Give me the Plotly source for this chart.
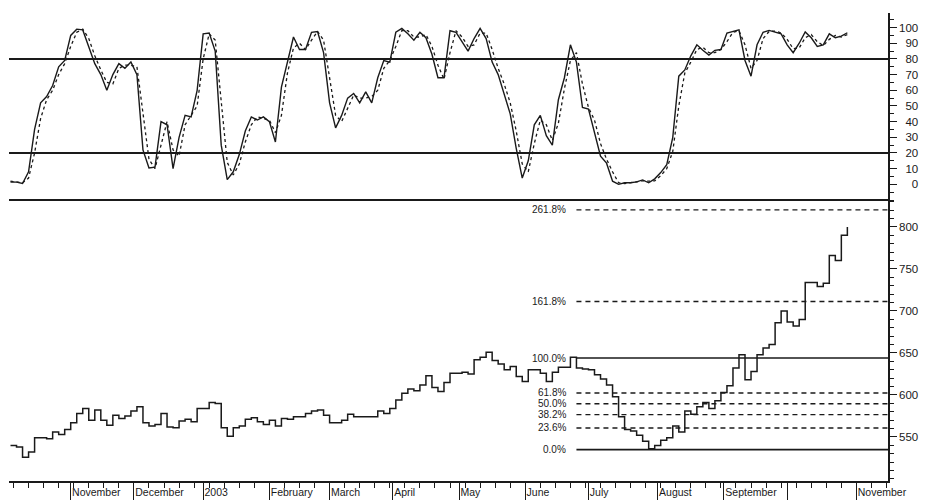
import pandas as pd
import plotly.graph_objects as go

# closing prices, every second trading day from 4 Oct 2002
CLOSE = [
    540, 538, 526, 532, 549, 549, 548, 556, 553, 559,
    567, 578, 584, 570, 582, 570, 564, 576, 572, 575,
    581, 586, 567, 563, 565, 578, 562, 561, 569, 571,
    568, 584, 584, 591, 590, 561, 551, 561, 563, 571,
    573, 568, 565, 570, 563, 572, 571, 574, 574, 578,
    581, 582, 576, 567, 567, 570, 577, 574, 574, 574,
    574, 581, 578, 584, 594, 602, 607, 605, 612, 623,
    609, 604, 615, 626, 626, 627, 625, 642, 645, 651,
    641, 637, 630, 634, 622, 616, 630, 630, 626, 616,
    627, 633, 633, 645, 632, 631, 630, 624, 619, 612,
    598, 574, 559, 557, 552, 545, 536, 540, 546, 549,
    563, 556, 581, 577, 586, 591, 584, 593, 603, 611,
    632, 648, 618, 628, 648, 656, 660, 686, 700, 687,
    682, 690, 734, 734, 729, 733, 766, 760, 790, 800,
]

# stochastic %K (solid) and %D (dashed)
STOCH_K = [
    1.5, 1.4, 0.5, 8, 35, 52, 56, 63, 75, 79,
    95, 99, 98.5, 87, 77, 70, 60, 70, 77, 74,
    78, 70, 22, 10.5, 11, 40, 38, 10, 30, 44,
    43, 60, 96, 96.5, 85, 25, 3, 8, 19, 34,
    43, 41, 43, 40, 27, 62, 79, 94, 86, 86,
    97, 97.5, 84, 52, 36, 44, 55, 58, 52, 59,
    52, 68, 79, 78, 97, 99.5, 96, 92, 97, 93.5,
    83, 68, 68, 98, 97, 91, 85, 93, 99.5, 93,
    78, 70, 58, 45, 23, 4, 15, 38, 44, 31,
    25, 54, 68, 89, 78, 49, 48, 33, 18, 13.5,
    2, 0, 1, 1, 1.6, 2.8, 1, 3.5, 7.5, 12.5,
    30, 69, 73, 82, 89, 85.5, 82.5, 85.5, 86, 96.5,
    97.3, 98.5, 79, 69, 89, 97, 98.2, 97.3, 96, 89,
    84, 90, 97.2, 93.5, 88, 89, 96, 93.5, 94.5, 96.7,
]
STOCH_D = [
    2, 1.6, 1, 4, 20, 42, 54, 60, 70, 77,
    88, 97, 99, 93, 82, 73, 65, 64, 74, 76,
    76, 75, 45, 16, 10, 25, 40, 22, 18, 38,
    44, 50, 80, 96, 92, 55, 14, 6, 13, 27,
    38, 43, 42, 41, 33, 44, 71, 87, 90, 86,
    92, 97.5, 92, 68, 44, 40, 49, 57, 55, 55,
    56, 60, 74, 79, 88, 98, 98, 94, 94, 95.5,
    88, 76, 67, 84, 98, 94, 88, 89, 96.5, 96.5,
    86, 74, 64, 52, 34, 13, 8, 26, 41, 38,
    28, 39, 61, 79, 84, 64, 49, 41, 26, 16,
    8, 1, 0.5, 1, 1.3, 2.2, 2, 2.2, 5.5, 10,
    21, 50, 71, 78, 86, 87.5, 84, 84, 86, 91,
    97, 98, 89, 74, 79, 93, 97.5, 97.8, 96.6, 92.5,
    86.5, 87, 93.5, 95.5, 91, 88.5, 92.5, 95, 94, 95.5,
]
STOCH_LEVELS = [20, 80]

# fibonacci levels from the August low to the late-June high
SWING_LOW = 535
SWING_HIGH = 644
SWING_HIGH_DATE = "2003-06-25"
FIB_RATIOS = [0.0, 23.6, 38.2, 50.0, 61.8, 100.0, 161.8, 261.8]

MONTH_TICKS = [
    "2002-11-01", "2002-12-02", "2003-01-02", "2003-02-03", "2003-03-03",
    "2003-04-01", "2003-05-01", "2003-06-02", "2003-07-01", "2003-08-01",
    "2003-09-02", "2003-10-01", "2003-11-03",
]
MONTH_LABELS = [
    "November", "December", "2003", "February", "March", "April", "May",
    "June", "July", "August", "September", "", "November",
]
PRICE_TICKS = [550, 600, 650, 700, 750, 800]
STOCH_TICKS = [0, 10, 20, 30, 40, 50, 60, 70, 80, 90, 100]

X_RANGE = ["2002-10-03 12:00", "2003-11-17 12:00"]
INK = "#1a1a1a"

dates = pd.bdate_range("2002-10-04", periods=len(CLOSE), freq="2B")

fig = go.Figure()
fig.add_trace(go.Scatter(x=dates, y=STOCH_K, yaxis="y2", mode="lines",
                         line=dict(color=INK, width=1.4)))
fig.add_trace(go.Scatter(x=dates, y=STOCH_D, yaxis="y2", mode="lines",
                         line=dict(color=INK, width=1.3, dash="3px,3px")))
fig.add_trace(go.Scatter(x=dates, y=CLOSE, yaxis="y", mode="lines",
                         line=dict(color=INK, width=1.5, shape="hv")))

shapes = []
for lvl in STOCH_LEVELS:
    shapes.append(dict(type="line", xref="x domain", x0=0, x1=1, yref="y2",
                       y0=lvl, y1=lvl, line=dict(color=INK, width=2)))
# panel divider
shapes.append(dict(type="line", xref="x domain", x0=0, x1=1, yref="y domain",
                   y0=1, y1=1, line=dict(color=INK, width=2)))

annotations = []
for r in FIB_RATIOS:
    level = SWING_LOW + (SWING_HIGH - SWING_LOW) * r / 100
    solid = r in (0.0, 100.0)
    shapes.append(dict(type="line", xref="x", x0=SWING_HIGH_DATE, x1=X_RANGE[1],
                       yref="y", y0=level, y1=level,
                       line=dict(color=INK, width=1.6 if solid else 1.4,
                                 dash="solid" if solid else "5px,4px")))
    annotations.append(dict(x=SWING_HIGH_DATE, y=level, xref="x", yref="y",
                            text=f"{r:.1f}%", showarrow=False, xanchor="right",
                            xshift=-8, font=dict(size=10, color=INK)))

stoch_text = [("\u2007" * (3 - len(str(v)))) + str(v) for v in STOCH_TICKS]

axis_common = dict(showgrid=False, zeroline=False, showline=True, linecolor=INK,
                   linewidth=1.5, ticks="outside", tickcolor=INK, tickwidth=1.2,
                   automargin=False)

fig.update_layout(
    width=936, height=500,
    margin=dict(l=9, r=48, t=13, b=19, autoexpand=False),
    paper_bgcolor="white", plot_bgcolor="white",
    showlegend=False,
    font=dict(family="Liberation Sans, Arial, sans-serif", size=11.5, color=INK),
    shapes=shapes,
    annotations=annotations,
    xaxis=dict(
        **axis_common,
        type="date", range=X_RANGE, anchor="y",
        rangebreaks=[dict(bounds=["sat", "mon"])],
        tickvals=MONTH_TICKS, ticktext=MONTH_LABELS,
        ticklen=18, tickangle=0,
        ticklabelposition="outside right", ticklabelstandoff=1,
        tickfont=dict(size=10.5),
        minor=dict(dtick=7 * 86400000, tick0="2002-10-07", ticks="outside",
                   ticklen=5, tickcolor=INK, showgrid=False),
    ),
    yaxis=dict(
        **axis_common,
        domain=[0, 0.6004], range=[497.6, 832.1], side="right", anchor="x",
        tickvals=PRICE_TICKS, ticklen=7,
        minor=dict(dtick=10, ticks="outside", ticklen=4, tickcolor=INK),
    ),
    yaxis2=dict(
        **axis_common,
        domain=[0.6004, 1], range=[-10, 109.3], side="right", anchor="x",
        tickvals=STOCH_TICKS, ticktext=stoch_text, ticklen=7,
        minor=dict(dtick=5, ticks="outside", ticklen=4, tickcolor=INK),
    ),
)

# the page's default body margin would push the figure 8px off the window
fig.write_html("out.html", config={"displayModeBar": False},
               post_script="document.body.style.margin = '0px';")
